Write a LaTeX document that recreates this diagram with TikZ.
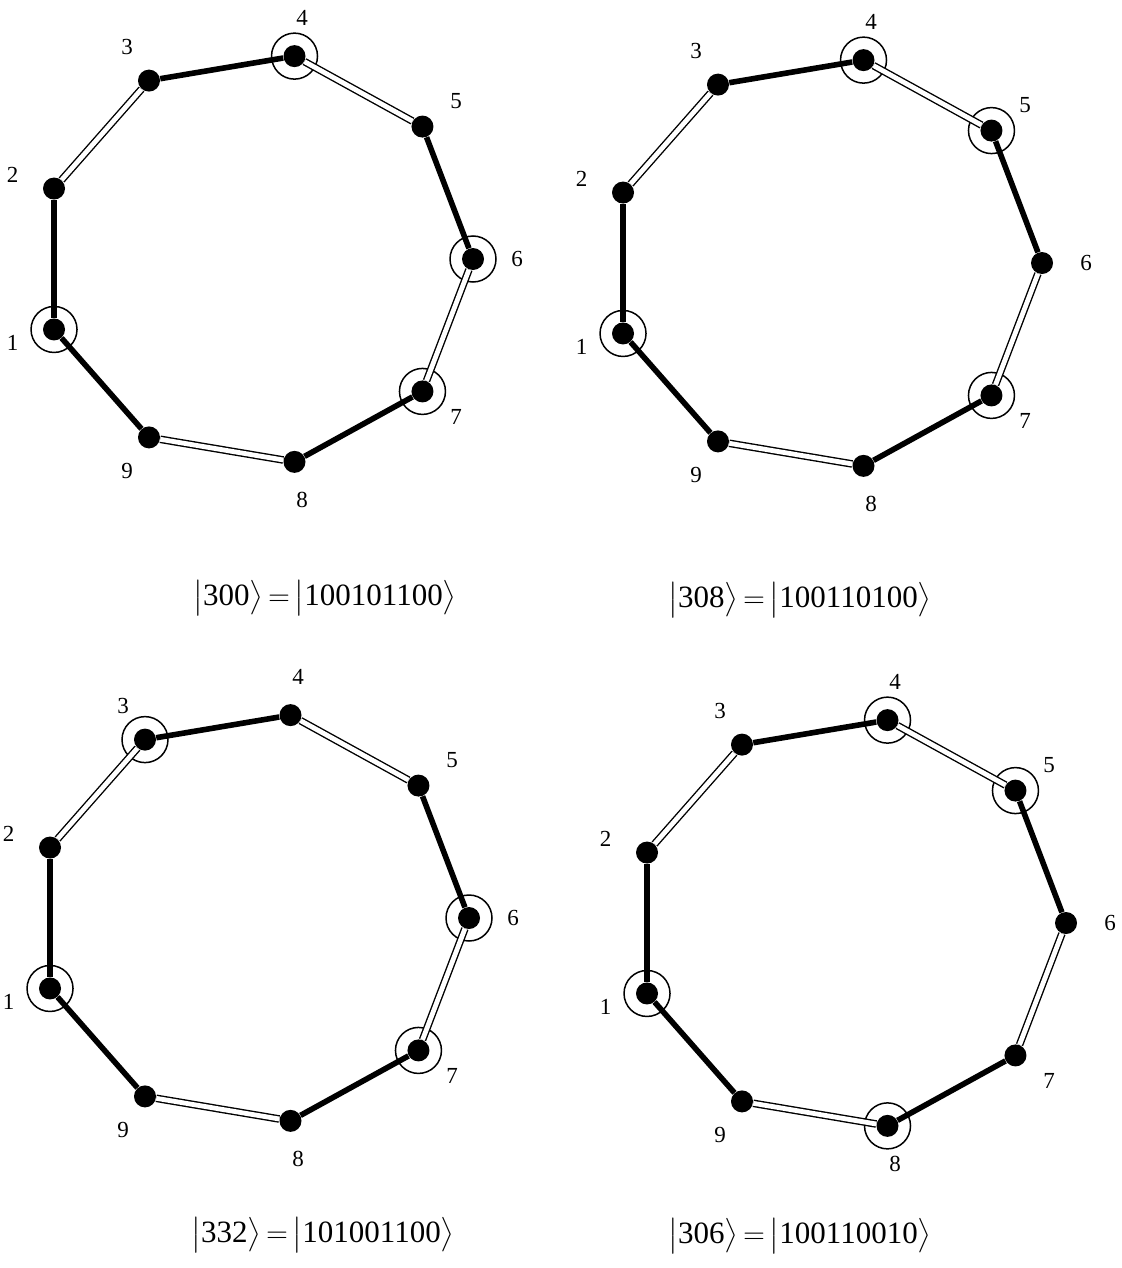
\documentclass[tikz,border=0pt]{standalone}
\usepackage{amsmath}
\usepackage{fontspec}
\setmainfont{Liberation Serif}
\usetikzlibrary{calc}

% one ring of nine sites: prefix, centre, occupied sites
\newcommand{\chain}[3]{%
  \begin{scope}[shift={#2}]
    \foreach \k in {1,...,9} {
      \pgfmathsetmacro\ang{200-40*(\k-1)}
      \node[site] (#1\k) at (\ang:216 and 206) {};
      \node[num] (#1n\k) at (\ang:260 and 245) {\k};
    }
    \foreach \k in {#3} \node[occ] (#1o\k) at (#1\k) {};
    \foreach \a/\b in {1/2,3/4,5/6,7/8,9/1} \draw[bond] (#1\a) -- (#1\b);
    \foreach \a/\b in {2/3,4/5,6/7,8/9} \draw[dbond] (#1\a) -- (#1\b);
  \end{scope}}
\newcommand{\ketsign}{\mkern-2mu=\mkern-2mu}

\begin{document}
\begin{tikzpicture}[x=0.5pt, y=0.5pt,
  site/.style={circle, fill, inner sep=0pt, minimum size=11pt},
  occ/.style={circle, draw, line width=0.75pt, inner sep=0pt, minimum size=23pt},
  bond/.style={line width=2.8pt},
  dbond/.style={double, double distance=2.4pt, line width=0.7pt},
  num/.style={font=\fontsize{11.5}{13}\selectfont},
  ket/.style={font=\fontsize{15.5}{18}\selectfont}]
\useasboundingbox (0,0) rectangle (1122,-1268);
\chain{a}{(257,-259)}{1,4,6,7}
\chain{b}{(826,-263)}{1,4,5,7}
\chain{c}{(253,-918)}{1,3,6,7}
\chain{d}{(850,-923)}{1,4,5,8}
\node[ket] (ka) at (325,-598) {$\bigl|\text{300}\bigr\rangle\ketsign\bigl|\text{100101100}\bigr\rangle$};
\node[ket] (kb) at (800,-600) {$\bigl|\text{308}\bigr\rangle\ketsign\bigl|\text{100110100}\bigr\rangle$};
\node[ket] (kc) at (323,-1235) {$\bigl|\text{332}\bigr\rangle\ketsign\bigl|\text{101001100}\bigr\rangle$};
\node[ket] (kd) at (800,-1236) {$\bigl|\text{306}\bigr\rangle\ketsign\bigl|\text{100110010}\bigr\rangle$};
\end{tikzpicture}
\end{document}
